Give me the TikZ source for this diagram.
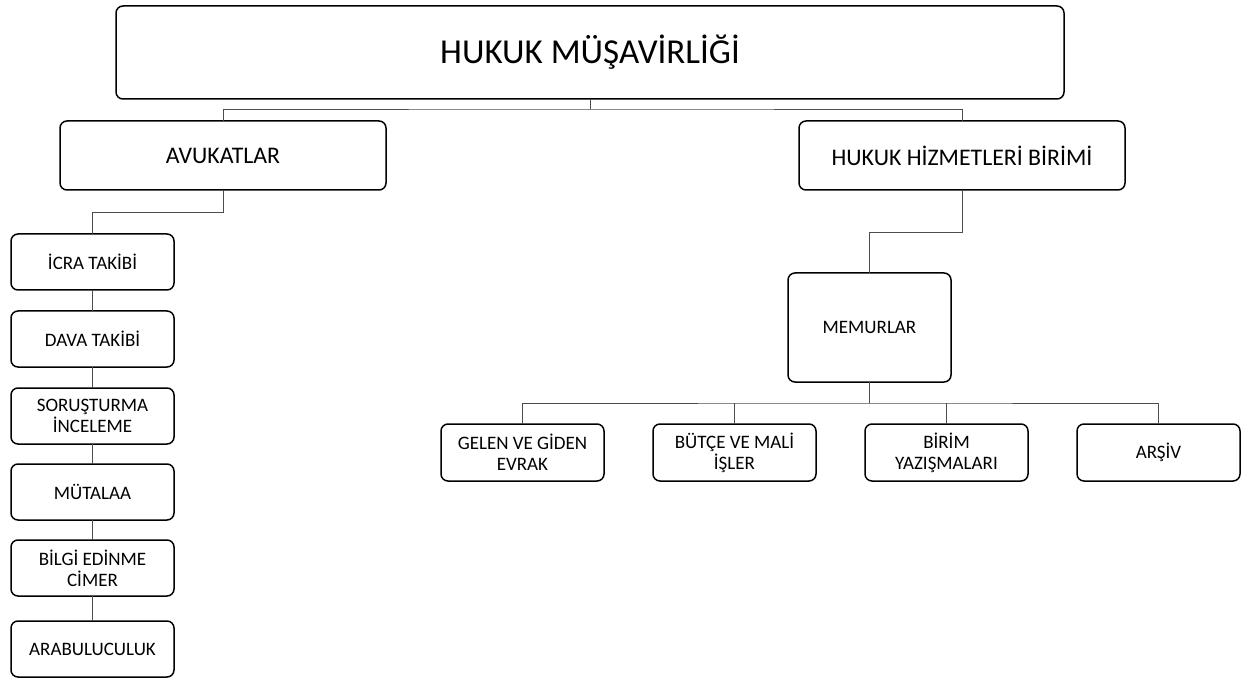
\documentclass[tikz,border=0pt]{standalone}
\usepackage{fontspec}
\setmainfont{Carlito}
\usetikzlibrary{positioning}

\begin{document}
\begin{tikzpicture}[x = 1pt, y = -1pt,
    box/.style = { draw, line width = 1.5pt, rounded corners = 7pt, align = center, inner sep = 0pt, outer sep = 0pt },
    small/.style = { box, minimum width = 163pt, minimum height = 56pt, font = \fontsize{19}{21}\selectfont },
    unit/.style = { box, minimum width = 326pt, minimum height = 69pt, font = \fontsize{23.8}{28}\selectfont },
    link/.style = { draw = black!70, line width = 0.9pt }]
    \useasboundingbox (0,0) rectangle (1255,700);

    % head
    \node [box, minimum width = 948pt, minimum height = 93pt, font = \fontsize{35}{40}\selectfont] (head) at (590, 52.5) {HUKUK MÜŞAVİRLİĞİ};
    \node [unit] (avukat) at (223, 155.5) {AVUKATLAR};
    \node [unit] (hizmet) at (962, 155.5) {HUKUK\ HİZMETLERİ BİRİMİ};

    % left column
    \node [small] (icra) at (92.5, 262) {İCRA TAKİBİ};
    \node [small, below = 21pt of icra] (dava) {DAVA TAKİBİ};
    \node [small, below = 21pt of dava] (sorus) {SORUŞTURMA \\ İNCELEME};
    \node [small, below = 20pt of sorus] (mutalaa) {MÜTALAA};
    \node [small, below = 20pt of mutalaa] (bilgi) {BİLGİ EDİNME \\ CİMER};
    \node [small, below = 25pt of bilgi] (arabul) {ARABULUCULUK};

    % right side
    \node [small, minimum height = 109pt] (memur) at (869.5, 327.5) {MEMURLAR};
    \node [small, minimum height = 57pt] (gelen) at (522.5, 452.5) {GELEN VE\ GİDEN \\ EVRAK};
    \node [small, minimum height = 57pt, right = 49pt of gelen] (butce) {BÜTÇE\ VE MALİ \\ İŞLER};
    \node [small, minimum height = 57pt, right = 49pt of butce] (birim) {BİRİM \\ YAZIŞMALARI};
    \node [small, minimum height = 57pt, right = 49pt of birim] (arsiv) {ARŞİV};

    % connectors
    \coordinate (headbus) at (590, 109);
    \draw [link] (head.south) -- (headbus);
    \draw [link] (avukat.north) |- (headbus) -| (hizmet.north);
    \draw [link] (avukat.south) -- ++(0, 22) -| (icra.north);
    \draw [link] (icra.south) -- (dava.north);
    \draw [link] (dava.south) -- (sorus.north);
    \draw [link] (sorus.south) -- (mutalaa.north);
    \draw [link] (mutalaa.south) -- (bilgi.north);
    \draw [link] (bilgi.south) -- (arabul.north);
    \draw [link] (hizmet.south) -- ++(0, 42) -| (memur.north);
    \draw [link] (memur.south) -- ++(0, 21) coordinate (membus);
    \draw [link] (gelen.north) |- (membus) -| (arsiv.north);
    \draw [link] (butce.north) -- (butce.north |- membus);
    \draw [link] (birim.north) -- (birim.north |- membus);

\end{tikzpicture}
\end{document}
